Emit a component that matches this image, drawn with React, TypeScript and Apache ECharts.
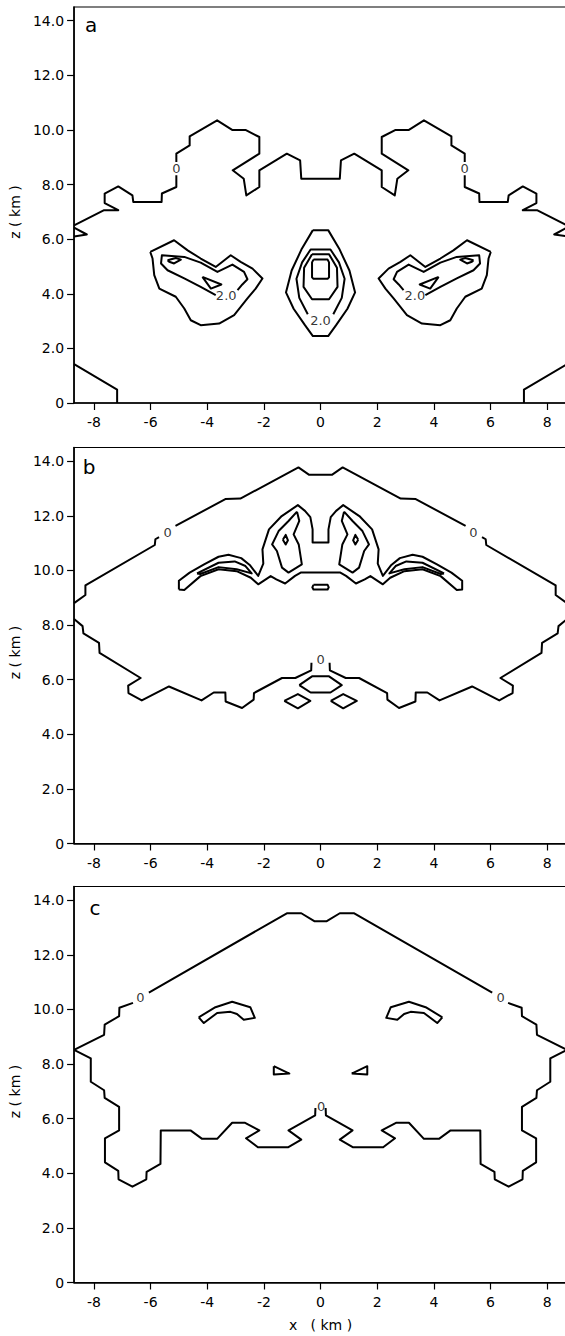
import React, { useEffect, useRef } from "react";
import * as echarts from "echarts";

// ---- axis ticks ----
const xTicks = [-8, -6, -4, -2, 0, 2, 4, 6, 8];
const zTicks = [0, 2, 4, 6, 8, 10, 12, 14];

// ---- Panel a contours [x (km), z (km)] ----
const aOuterLeft = [[-8.7,6.5],[-7.64,7.06],[-7.14,7.06],[-7.62,7.32],[-7.62,7.67],[-7.14,7.93],[-6.64,7.6],[-6.61,7.36],[-5.61,7.36],[-5.6,7.67],[-5.09,7.91],[-5.09,8.34]];
const aOuterMid = [[-5.09,8.82],[-5.09,9.13],[-4.62,9.43],[-4.62,9.76],[-3.65,10.35],[-3.12,10.0],[-2.65,10.0],[-2.16,9.74],[-2.16,9.13],[-3.1,8.52],[-2.71,8.21],[-2.62,7.6],[-2.16,7.91],[-2.16,8.52],[-1.19,9.13],[-0.72,8.88],[-0.68,8.21],[0.68,8.21],[0.72,8.88],[1.19,9.13],[2.16,8.52],[2.16,7.91],[2.62,7.6],[2.71,8.21],[3.1,8.52],[2.16,9.13],[2.16,9.74],[2.65,10.0],[3.12,10.0],[3.65,10.35],[4.62,9.76],[4.62,9.43],[5.09,9.13],[5.09,8.82]];
const aOuterRight = [[5.09,8.34],[5.09,7.91],[5.6,7.67],[5.61,7.36],[6.61,7.36],[6.64,7.6],[7.14,7.93],[7.62,7.67],[7.62,7.32],[7.14,7.06],[7.64,7.06],[8.7,6.5]];
const aEdgeLeft = [[-8.7,6.42],[-8.25,6.17],[-8.7,6.1]];
const aEdgeRight = [[8.7,6.42],[8.25,6.17],[8.7,6.1]];
const aCornerLeft = [[-8.7,1.42],[-7.18,0.49],[-7.18,0]];
const aCornerRight = [[7.18,0],[7.18,0.49],[8.7,1.42]];
const aBlobLeft = [[-6.01,5.53],[-5.17,5.96],[-4.69,5.59],[-4.23,5.29],[-3.7,4.98],[-3.17,5.41],[-2.82,5.17],[-2.4,4.92],[-2.05,4.56],[-2.29,4.19],[-2.58,3.83],[-3.05,3.22],[-3.58,2.91],[-4.23,2.85],[-4.58,3.03],[-4.81,3.46],[-5.11,3.89],[-5.69,4.19],[-5.87,4.68],[-5.93,5.29],[-6.01,5.53]];
const aBlobRight = [[6.01,5.53],[5.17,5.96],[4.69,5.59],[4.23,5.29],[3.7,4.98],[3.17,5.41],[2.82,5.17],[2.4,4.92],[2.05,4.56],[2.29,4.19],[2.58,3.83],[3.05,3.22],[3.58,2.91],[4.23,2.85],[4.58,3.03],[4.81,3.46],[5.11,3.89],[5.69,4.19],[5.87,4.68],[5.93,5.29],[6.01,5.53]];
const aTwoLeft = [[-2.93,4.13],[-2.76,4.34],[-2.58,4.53],[-2.7,4.8],[-3.11,5.07],[-3.64,4.8],[-4.23,5.14],[-4.81,5.35],[-5.6,5.41],[-5.63,5.11],[-5.4,4.86],[-4.81,4.56],[-4.23,4.25],[-3.7,3.95]];
const aTwoRight = [[2.93,4.13],[2.76,4.34],[2.58,4.53],[2.7,4.8],[3.11,5.07],[3.64,4.8],[4.23,5.14],[4.81,5.35],[5.6,5.41],[5.63,5.11],[5.4,4.86],[4.81,4.56],[4.23,4.25],[3.7,3.95]];
const aEyeLeft = [[-5.4,5.23],[-5.11,5.31],[-4.93,5.25],[-5.17,5.11],[-5.34,5.17],[-5.4,5.23]];
const aEyeRight = [[5.4,5.23],[5.11,5.31],[4.93,5.25],[5.17,5.11],[5.34,5.17],[5.4,5.23]];
const aTriLeft = [[-4.17,4.62],[-3.5,4.34],[-3.87,4.19],[-4.17,4.62]];
const aTriRight = [[4.17,4.62],[3.5,4.34],[3.87,4.19],[4.17,4.62]];
const aCenterOuter = [[-0.27,6.33],[0.27,6.33],[0.66,5.65],[1.02,4.85],[1.22,4.05],[0.95,3.45],[0.55,2.85],[0.27,2.45],[-0.27,2.45],[-0.55,2.85],[-0.95,3.45],[-1.22,4.05],[-1.02,4.85],[-0.66,5.65],[-0.27,6.33]];
const aCenterTwo = [[0.45,3.25],[0.75,3.85],[0.85,4.55],[0.65,5.15],[0.35,5.62],[-0.35,5.62],[-0.65,5.15],[-0.85,4.55],[-0.75,3.85],[-0.45,3.25]];
const aCenterThird = [[-0.3,5.45],[0.3,5.45],[0.58,4.95],[0.6,4.25],[0.3,3.8],[-0.3,3.8],[-0.6,4.25],[-0.58,4.95],[-0.3,5.45]];
const aCenterInner = [[-0.25,5.25],[0.25,5.25],[0.3,5.15],[0.3,4.6],[0.25,4.55],[-0.25,4.55],[-0.3,4.6],[-0.3,5.15],[-0.25,5.25]];
const aLabels = [{ name: "0", value: [-5.09, 8.58] }, { name: "0", value: [5.09, 8.58] }, { name: "2.0", value: [-3.33, 3.92] }, { name: "2.0", value: [3.33, 3.92] }, { name: "2.0", value: [0, 3.02] }];

// ---- Panel b contours ----
const bTopLeft = [[-8.7,8.8],[-8.3,9.1],[-8.3,9.45],[-5.85,10.93],[-5.83,11.14],[-5.7,11.22]];
const bTop = [[-5.12,11.63],[-3.36,12.61],[-2.83,12.63],[-0.78,13.77],[-0.4,13.5],[0.4,13.5],[0.78,13.77],[2.83,12.63],[3.36,12.61],[5.12,11.63]];
const bTopRight = [[5.7,11.22],[5.83,11.14],[5.85,10.93],[8.3,9.45],[8.3,9.1],[8.7,8.8]];
const bLowLeft = [[-8.7,8.22],[-8.4,7.96],[-8.37,7.69],[-7.82,7.35],[-7.8,6.98],[-6.35,6.06],[-6.79,5.78],[-6.78,5.51],[-6.31,5.24],[-5.35,5.75],[-4.2,5.24],[-3.77,5.53],[-3.36,5.53],[-3.35,5.2],[-2.77,4.96],[-2.36,5.27],[-2.35,5.51],[-1.36,6.06],[-0.89,6.06],[-0.33,6.34],[-0.32,6.62]];
const bLowRight = [[0.32,6.62],[0.33,6.34],[0.89,6.06],[1.36,6.06],[2.35,5.51],[2.36,5.27],[2.77,4.96],[3.35,5.2],[3.36,5.53],[3.77,5.53],[4.2,5.24],[5.35,5.75],[6.31,5.24],[6.78,5.51],[6.79,5.78],[6.35,6.06],[7.8,6.98],[7.82,7.35],[8.37,7.69],[8.4,7.96],[8.7,8.22]];
const bLens = [[-0.75,5.8],[-0.3,6.12],[0.3,6.12],[0.75,5.8],[0.35,5.53],[-0.35,5.53],[-0.75,5.8]];
const bDiamondLeft = [[-1.28,5.22],[-0.8,5.47],[-0.36,5.22],[-0.8,4.95],[-1.28,5.22]];
const bDiamondRight = [[0.36,5.22],[0.8,5.47],[1.28,5.22],[0.8,4.95],[0.36,5.22]];
const bBig = [[-5.0,9.3],[-5.0,9.62],[-4.62,9.92],[-4.11,10.22],[-3.6,10.5],[-3.25,10.57],[-2.8,10.45],[-2.5,10.2],[-2.2,9.8],[-2.02,10.25],[-2.05,10.77],[-1.82,11.5],[-1.37,11.99],[-0.8,12.39],[-0.55,12.18],[-0.36,11.95],[-0.28,11.5],[-0.28,11.02],[0.28,11.02],[0.28,11.5],[0.36,11.95],[0.55,12.18],[0.8,12.39],[1.37,11.99],[1.82,11.5],[2.05,10.77],[2.02,10.25],[2.2,9.8],[2.5,10.2],[2.8,10.45],[3.25,10.57],[3.6,10.5],[4.11,10.22],[4.62,9.92],[5.0,9.62],[5.0,9.3],[4.81,9.28],[4.24,9.79],[3.6,10.04],[2.96,9.97],[2.46,9.73],[2.2,9.49],[1.76,9.79],[1.56,9.67],[1.25,9.52],[0.9,9.8],[0.7,9.92],[-0.7,9.92],[-0.9,9.8],[-1.25,9.52],[-1.56,9.67],[-1.76,9.79],[-2.2,9.49],[-2.46,9.73],[-2.96,9.97],[-3.6,10.04],[-4.24,9.79],[-4.81,9.28],[-5.0,9.3]];
const bWingLeft = [[-4.36,9.89],[-3.6,10.28],[-3.03,10.33],[-2.65,10.16],[-2.43,9.89],[-2.96,10.04],[-3.6,10.12],[-4.24,9.87],[-4.36,9.89]];
const bWingRight = [[4.36,9.89],[3.6,10.28],[3.03,10.33],[2.65,10.16],[2.43,9.89],[2.96,10.04],[3.6,10.12],[4.24,9.87],[4.36,9.89]];
const bLobeLeft = [[-0.83,12.15],[-0.75,11.81],[-0.95,11.32],[-0.77,10.95],[-0.66,10.22],[-1.13,9.92],[-1.36,10.1],[-1.54,10.71],[-1.71,10.95],[-1.48,11.44],[-1.13,11.81],[-0.83,12.15]];
const bLobeRight = [[0.83,12.15],[0.75,11.81],[0.95,11.32],[0.77,10.95],[0.66,10.22],[1.13,9.92],[1.36,10.1],[1.54,10.71],[1.71,10.95],[1.48,11.44],[1.13,11.81],[0.83,12.15]];
const bDotLeft = [[-1.33,11.12],[-1.23,11.3],[-1.15,11.1],[-1.23,10.95],[-1.33,11.12]];
const bDotRight = [[1.33,11.12],[1.23,11.3],[1.15,11.1],[1.23,10.95],[1.33,11.12]];
const bRect = [[-0.25,9.47],[0.25,9.47],[0.29,9.38],[0.25,9.3],[-0.25,9.3],[-0.29,9.38],[-0.25,9.47]];
const bLabels = [{ name: "0", value: [-5.4, 11.38] }, { name: "0", value: [5.4, 11.38] }, { name: "0", value: [0, 6.72] }];

// ---- Panel c contours ----
const cTopLeft = [[-8.7,8.52],[-7.64,9.07],[-7.62,9.44],[-7.11,9.75],[-7.1,10.06],[-6.62,10.24]];
const cTop = [[-6.06,10.61],[-1.19,13.52],[-0.68,13.52],[-0.22,13.23],[0.22,13.23],[0.68,13.52],[1.19,13.52],[6.06,10.61]];
const cTopRight = [[6.62,10.24],[7.1,10.06],[7.11,9.75],[7.62,9.44],[7.64,9.07],[8.7,8.52]];
const cLowLeft = [[-8.7,8.52],[-8.11,8.21],[-8.11,7.35],[-7.64,7.04],[-7.62,6.76],[-7.11,6.43],[-7.11,5.57],[-7.61,5.28],[-7.61,4.4],[-7.14,4.09],[-7.13,3.78],[-6.64,3.51],[-6.15,3.78],[-6.14,4.05],[-5.65,4.34],[-5.64,5.57],[-4.59,5.57],[-4.18,5.26],[-3.65,5.26],[-3.12,5.85],[-2.68,5.85],[-2.16,5.57],[-2.63,5.28],[-2.21,4.95],[-1.15,4.95],[-0.68,5.23],[-1.13,5.57],[-0.19,6.12],[-0.18,6.39]];
const cLowRight = [[0.18,6.39],[0.19,6.12],[1.13,5.57],[0.68,5.23],[1.15,4.95],[2.21,4.95],[2.63,5.28],[2.16,5.57],[2.68,5.85],[3.12,5.85],[3.65,5.26],[4.18,5.26],[4.59,5.57],[5.64,5.57],[5.65,4.34],[6.14,4.05],[6.15,3.78],[6.64,3.51],[7.13,3.78],[7.14,4.09],[7.61,4.4],[7.61,5.28],[7.11,5.57],[7.11,6.43],[7.62,6.76],[7.64,7.04],[8.11,7.35],[8.11,8.21],[8.7,8.52]];
const cArcLeft = [[-4.3,9.71],[-3.71,10.08],[-3.12,10.28],[-2.48,10.08],[-2.32,9.69],[-2.71,9.62],[-2.95,9.83],[-3.18,9.91],[-3.65,9.87],[-4.12,9.5],[-4.3,9.71]];
const cArcRight = [[4.3,9.71],[3.71,10.08],[3.12,10.28],[2.48,10.08],[2.32,9.69],[2.71,9.62],[2.95,9.83],[3.18,9.91],[3.65,9.87],[4.12,9.5],[4.3,9.71]];
const cTriLeft = [[-1.65,7.92],[-1.65,7.62],[-1.1,7.65],[-1.65,7.92]];
const cTriRight = [[1.1,7.65],[1.65,7.92],[1.65,7.62],[1.1,7.65]];
const cLabels = [{ name: "0", value: [-6.36, 10.45] }, { name: "0", value: [6.36, 10.45] }, { name: "0", value: [0.02, 6.45] }];

const panelLines = [
  [aOuterLeft, aOuterMid, aOuterRight, aEdgeLeft, aEdgeRight, aCornerLeft, aCornerRight, aBlobLeft, aBlobRight, aTwoLeft, aTwoRight, aEyeLeft, aEyeRight, aTriLeft, aTriRight, aCenterOuter, aCenterTwo, aCenterThird, aCenterInner],
  [bTopLeft, bTop, bTopRight, bLowLeft, bLowRight, bLens, bDiamondLeft, bDiamondRight, bBig, bWingLeft, bWingRight, bLobeLeft, bLobeRight, bDotLeft, bDotRight, bRect],
  [cTopLeft, cTop, cTopRight, cLowLeft, cLowRight, cArcLeft, cArcRight, cTriLeft, cTriRight],
];
const panelLabels = [aLabels, bLabels, cLabels];
const panelLetters = ["a", "b", "c"];

const FONT = "'DejaVu Sans', 'Liberation Sans', Arial, sans-serif";
const gridTops = [7, 447.5, 886.5];
const letterPos = [[91, 25], [89, 467], [95, 908]];

export default function App() {
  const ref = useRef<HTMLDivElement>(null);
  useEffect(() => {
    if (!ref.current) return;
    const chart = echarts.init(ref.current, undefined, { renderer: "svg" });
    const grids: any[] = [];
    const xAxes: any[] = [];
    const yAxes: any[] = [];
    const series: any[] = [];
    for (let i = 0; i < 3; i++) {
      grids.push({ left: 73, top: gridTops[i], width: 494, height: 396, show: true, borderColor: "#000", borderWidth: 1.2, backgroundColor: "transparent" });
      xAxes.push({
        gridIndex: i, type: "value", min: -8.7, max: 8.7,
        axisLine: { show: true, onZero: false, lineStyle: { color: "#000", width: 1.6 } },
        axisTick: { show: true, customValues: xTicks, length: 7, lineStyle: { color: "#000", width: 1.2 } },
        axisLabel: { customValues: xTicks, margin: 12, fontSize: 14, color: "#000", fontFamily: FONT, formatter: (v: number) => String(v) },
        splitLine: { show: false },
        name: i === 2 ? "x   ( km )" : "",
        nameLocation: "middle", nameGap: 35,
        nameTextStyle: { fontSize: 14, color: "#000", fontFamily: FONT },
      });
      yAxes.push({
        gridIndex: i, type: "value", min: 0, max: 14.5,
        axisLine: { show: true, onZero: false, lineStyle: { color: "#000", width: 1.6 } },
        axisTick: { show: true, customValues: zTicks, length: 7, lineStyle: { color: "#000", width: 1.2 } },
        axisLabel: { customValues: zTicks, margin: 10, fontSize: 14, color: "#000", fontFamily: FONT, formatter: (v: number) => (v === 0 ? "0" : v.toFixed(1)) },
        splitLine: { show: false },
        name: "z ( km )", nameLocation: "middle", nameGap: 46,
        nameTextStyle: { fontSize: 14, color: "#000", fontFamily: FONT, padding: [0, 14, 0, 0] },
      });
      panelLines[i].forEach((d) => {
        series.push({
          type: "line", xAxisIndex: i, yAxisIndex: i, data: d, showSymbol: false, symbol: "none",
          lineStyle: { color: "#000", width: 2, join: "round" }, silent: true,
        });
      });
      series.push({
        type: "scatter", xAxisIndex: i, yAxisIndex: i, data: panelLabels[i], symbolSize: 1,
        itemStyle: { color: "#fff" }, silent: true,
        label: { show: true, position: "inside", formatter: "{b}", fontSize: 13, color: "#000", textBorderWidth: 0, textBorderColor: "transparent", fontFamily: FONT },
      });
    }
    chart.setOption({
      animation: false,
      backgroundColor: "#fff",
      grid: grids, xAxis: xAxes, yAxis: yAxes, series,
      graphic: panelLetters.map((t, i) => ({
        type: "text", x: letterPos[i][0], y: letterPos[i][1],
        style: { text: t, fontSize: 20, fontFamily: FONT, fill: "#000", align: "center", verticalAlign: "middle" },
      })),
    });
    return () => chart.dispose();
  }, []);
  return (
    <div style={{ position: "fixed", left: 0, top: 0, width: 565, height: 1336, overflow: "hidden", background: "#fff" }}>
      <div ref={ref} style={{ width: 600, height: 1336 }} />
    </div>
  );
}
